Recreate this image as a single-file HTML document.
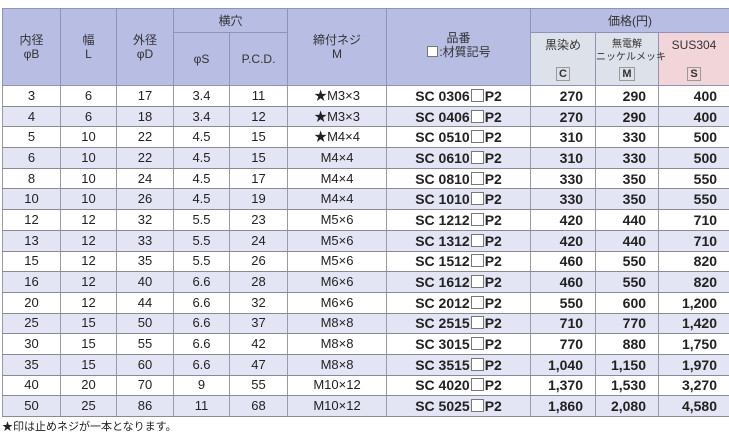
<!DOCTYPE html>
<html><head><meta charset="utf-8"><style>
body{margin:0;width:729px;height:438px;background:#fff;font-family:"Liberation Sans","Noto Sans CJK JP",sans-serif;position:relative;overflow:hidden}
table{position:absolute;left:2px;top:8px;border-collapse:collapse;table-layout:fixed;width:727px}
td,th{padding:0;font-size:13px;color:#222;text-align:center;border-left:1px solid #9a9aa8;border-right:1px solid #9a9aa8;line-height:14px}
th{background:#b8bde3;font-weight:normal;font-size:12px;line-height:14px;color:#333;border:1px solid #8f93b8;white-space:nowrap}
tr.d{height:20.7px}
tr.d td{border-bottom:1px solid #8a8a96}
tr.d:nth-child(even) td{background:#e3e5f5}
td.p{text-align:center;font-weight:bold;font-size:14px}
td.r{text-align:right;padding-right:12px;font-weight:bold;font-size:14px}
.bx{display:inline-block;width:11px;height:11px;border:1px solid #777;background:#fff;vertical-align:-1px;margin:0 1px}
.lb{display:inline-block;border:1px solid #999;padding:0 2px;font-weight:bold;font-size:11px;line-height:12px;margin-top:3px}
.c{background:#dde1ea!important}.s{background:#f2d5d8!important}
#f{position:absolute;left:2px;top:418px;font-size:11px;color:#222}
</style></head><body>
<table>
<colgroup><col style="width:58px"><col style="width:56px"><col style="width:57px"><col style="width:56px"><col style="width:58px"><col style="width:99px"><col style="width:144px"><col style="width:65px"><col style="width:63px"><col style="width:71px"></colgroup>
<tr style="height:24px"><th rowspan="2">内径<br>φB</th><th rowspan="2">幅<br>L</th><th rowspan="2">外径<br>φD</th><th colspan="2">横穴</th><th rowspan="2">締付ネジ<br>M</th><th rowspan="2" style="vertical-align:top;padding-top:22px">品番<br><span class="bx" style="width:9px;height:9px"></span>:材質記号</th><th colspan="3">価格(円)</th></tr>
<tr style="height:53px"><th>φS</th><th>P.C.D.</th><th class="c">黒染め<br><span style="display:block;height:12px"></span><span class="lb">C</span></th><th class="c" style="font-size:10px;line-height:13px">無電解<br>ニッケルメッキ<br><span class="lb">M</span></th><th class="s">SUS304<br><span style="display:block;height:12px"></span><span class="lb">S</span></th></tr>
<tbody>
<tr class="d"><td>3</td><td>6</td><td>17</td><td>3.4</td><td>11</td><td>★M3×3</td><td class="p">SC 0306<span class="bx"></span>P2</td><td class="r">270</td><td class="r">290</td><td class="r">400</td></tr>
<tr class="d"><td>4</td><td>6</td><td>18</td><td>3.4</td><td>12</td><td>★M3×3</td><td class="p">SC 0406<span class="bx"></span>P2</td><td class="r">270</td><td class="r">290</td><td class="r">400</td></tr>
<tr class="d"><td>5</td><td>10</td><td>22</td><td>4.5</td><td>15</td><td>★M4×4</td><td class="p">SC 0510<span class="bx"></span>P2</td><td class="r">310</td><td class="r">330</td><td class="r">500</td></tr>
<tr class="d"><td>6</td><td>10</td><td>22</td><td>4.5</td><td>15</td><td>M4×4</td><td class="p">SC 0610<span class="bx"></span>P2</td><td class="r">310</td><td class="r">330</td><td class="r">500</td></tr>
<tr class="d"><td>8</td><td>10</td><td>24</td><td>4.5</td><td>17</td><td>M4×4</td><td class="p">SC 0810<span class="bx"></span>P2</td><td class="r">330</td><td class="r">350</td><td class="r">550</td></tr>
<tr class="d"><td>10</td><td>10</td><td>26</td><td>4.5</td><td>19</td><td>M4×4</td><td class="p">SC 1010<span class="bx"></span>P2</td><td class="r">330</td><td class="r">350</td><td class="r">550</td></tr>
<tr class="d"><td>12</td><td>12</td><td>32</td><td>5.5</td><td>23</td><td>M5×6</td><td class="p">SC 1212<span class="bx"></span>P2</td><td class="r">420</td><td class="r">440</td><td class="r">710</td></tr>
<tr class="d"><td>13</td><td>12</td><td>33</td><td>5.5</td><td>24</td><td>M5×6</td><td class="p">SC 1312<span class="bx"></span>P2</td><td class="r">420</td><td class="r">440</td><td class="r">710</td></tr>
<tr class="d"><td>15</td><td>12</td><td>35</td><td>5.5</td><td>26</td><td>M5×6</td><td class="p">SC 1512<span class="bx"></span>P2</td><td class="r">460</td><td class="r">550</td><td class="r">820</td></tr>
<tr class="d"><td>16</td><td>12</td><td>40</td><td>6.6</td><td>28</td><td>M6×6</td><td class="p">SC 1612<span class="bx"></span>P2</td><td class="r">460</td><td class="r">550</td><td class="r">820</td></tr>
<tr class="d"><td>20</td><td>12</td><td>44</td><td>6.6</td><td>32</td><td>M6×6</td><td class="p">SC 2012<span class="bx"></span>P2</td><td class="r">550</td><td class="r">600</td><td class="r">1,200</td></tr>
<tr class="d"><td>25</td><td>15</td><td>50</td><td>6.6</td><td>37</td><td>M8×8</td><td class="p">SC 2515<span class="bx"></span>P2</td><td class="r">710</td><td class="r">770</td><td class="r">1,420</td></tr>
<tr class="d"><td>30</td><td>15</td><td>55</td><td>6.6</td><td>42</td><td>M8×8</td><td class="p">SC 3015<span class="bx"></span>P2</td><td class="r">770</td><td class="r">880</td><td class="r">1,750</td></tr>
<tr class="d"><td>35</td><td>15</td><td>60</td><td>6.6</td><td>47</td><td>M8×8</td><td class="p">SC 3515<span class="bx"></span>P2</td><td class="r">1,040</td><td class="r">1,150</td><td class="r">1,970</td></tr>
<tr class="d"><td>40</td><td>20</td><td>70</td><td>9</td><td>55</td><td>M10×12</td><td class="p">SC 4020<span class="bx"></span>P2</td><td class="r">1,370</td><td class="r">1,530</td><td class="r">3,270</td></tr>
<tr class="d"><td>50</td><td>25</td><td>86</td><td>11</td><td>68</td><td>M10×12</td><td class="p">SC 5025<span class="bx"></span>P2</td><td class="r">1,860</td><td class="r">2,080</td><td class="r">4,580</td></tr>
</tbody></table>
<div id="f">★印は止めネジが一本となります。</div>
</body></html>
